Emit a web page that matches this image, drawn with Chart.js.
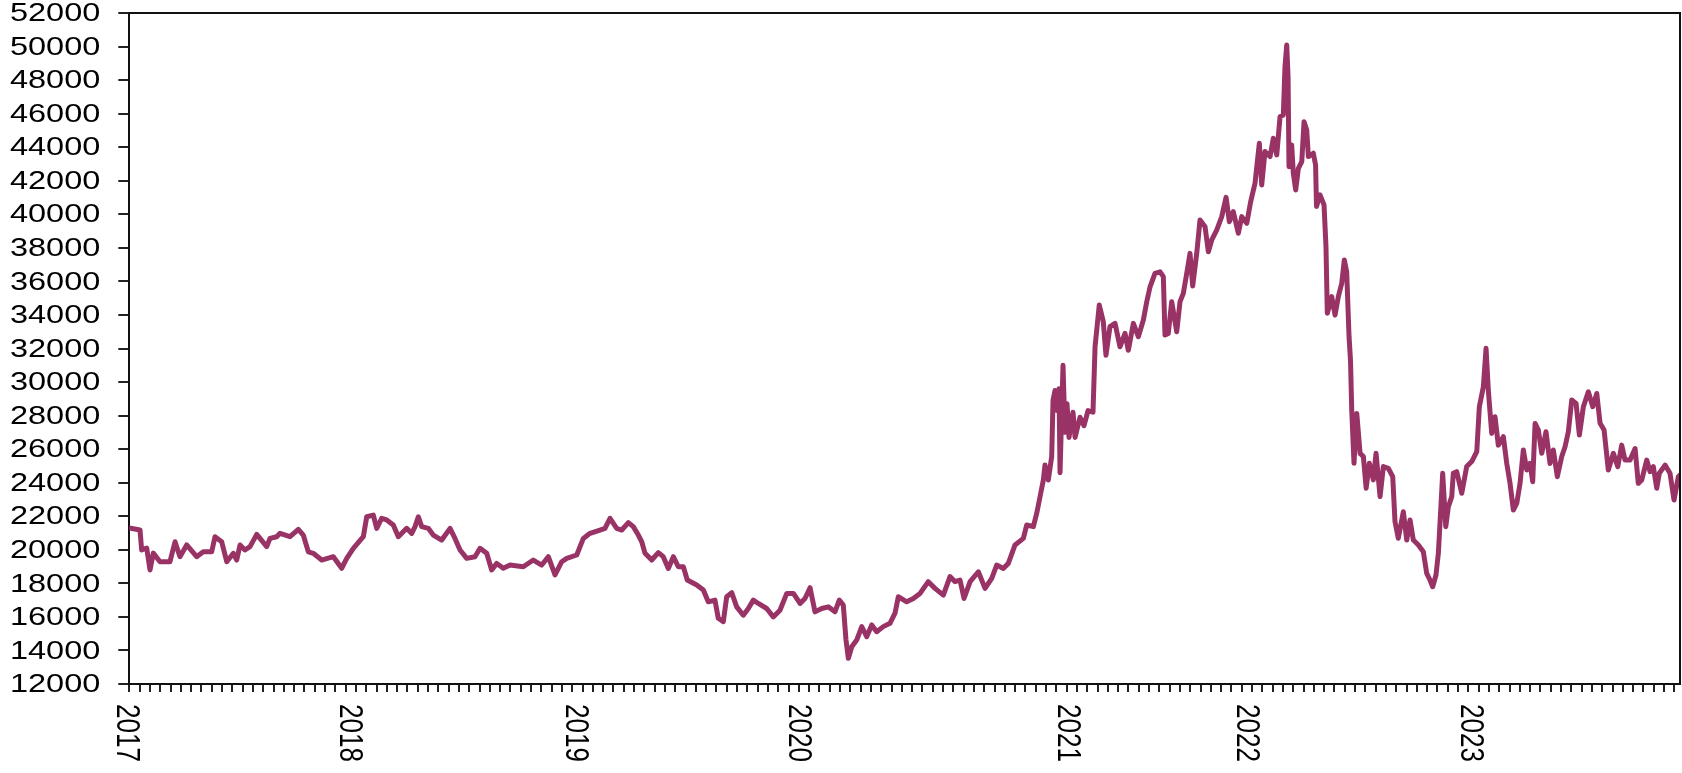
<!DOCTYPE html>
<html>
<head>
<meta charset="utf-8">
<script src="https://cdn.jsdelivr.net/npm/chart.js@4"></script>
<style>
html,body{margin:0;padding:0;background:#fff;}
#wrap{width:1682px;height:773px;position:relative;}
</style>
</head>
<body>
<div id="wrap"><canvas id="c"></canvas></div>
<script>
// x positions in axis-tick units (one minor tick = 1 unit)
const xVals = [
0,1.04,1.20,1.69,2.01,2.33,2.98,3.95,4.44,4.92,5.57,6.54,7.18,8.00,8.32,8.97,9.46,10.10,10.43,10.75,
11.23,11.72,12.37,13.34,13.66,14.31,14.63,15.60,16.41,16.89,17.38,17.86,18.68,19.81,20.62,21.11,21.75,22.72,23.05,23.69,
24.02,24.50,24.99,25.63,26.12,26.93,27.42,27.74,28.06,28.39,29.03,29.51,30.33,31.14,31.62,32.11,32.76,33.56,34.05,34.70,
35.18,35.67,36.31,36.96,38.25,39.22,40.04,40.68,41.33,41.98,42.47,43.44,44.08,44.73,45.70,
46.18,46.67,47.32,47.81,48.45,48.93,49.42,49.75,50.07,50.72,51.36,51.84,52.33,52.82,53.30,53.79,54.17,55.09,55.73,56.21,
56.86,57.18,57.67,58.00,58.49,58.97,59.61,60.10,60.58,61.07,61.88,62.52,63.17,63.83,64.47,65.12,65.60,66.09,66.57,67.22,
67.86,68.51,68.93,69.32,69.58,69.81,70.14,70.62,71.11,71.59,72.08,72.56,73.20,73.85,74.34,74.66,75.48,76.12,76.77,77.57,
78.22,79.03,79.68,80.17,80.65,81.04,81.63,82.43,83.08,83.73,84.21,84.85,85.34,85.99,86.80,87.13,87.77,88.10,88.42,88.74,
88.90,89.22,89.55,89.68,89.87,90.07,90.26,90.36,90.65,90.84,91.04,91.23,91.62,91.82,92.30,92.69,93.08,93.56,
93.76,94.17,94.56,94.82,95.21,95.70,96.18,96.67,96.99,97.48,97.96,98.45,98.78,99.10,99.58,100.07,100.39,100.55,100.87,101.20,
101.69,102.01,102.33,102.66,102.98,103.24,103.63,103.95,104.44,104.76,105.09,105.57,106.06,106.48,106.80,107.18,107.67,108.00,108.49,108.87,
109.29,109.71,109.94,110.26,110.75,111.07,111.40,111.72,112.04,112.20,112.37,112.50,112.59,112.85,113.01,113.24,113.50,113.83,114.05,114.31,
114.47,114.95,115.17,115.26,115.60,115.99,116.18,116.31,116.74,117.06,117.38,117.71,117.96,118.19,118.42,118.56,
118.68,118.90,119.17,119.49,119.81,120.08,120.39,120.78,121.04,121.43,121.75,122.23,122.66,122.88,123.20,123.69,124.02,124.34,124.66,125.15,
125.63,125.96,126.28,126.54,126.86,127.09,127.25,127.51,127.81,128.06,128.39,128.54,128.87,129.36,129.84,130.33,130.82,131.07,131.46,131.72,
131.94,132.27,132.59,132.91,133.40,133.73,134.05,134.37,134.70,135.02,135.34,135.67,135.99,136.25,136.48,136.80,137.13,137.54,137.93,138.25,
138.64,139.07,139.39,139.71,140.04,140.46,140.78,141.17,141.65,142.08,142.47,142.79,143.18,143.59,144.08,144.51,144.89,145.21,145.70,146.19,
146.50,146.83,147.32,147.64,147.96,148.29,148.54,149.10,149.58,149.97,150.39,150.55
];
const yVals = [
21300,21180,19990,20100,18800,19800,19290,19290,20480,19590,20290,19590,19880,19880,20780,20480,19290,19790,19390,20290,
19990,20190,20920,20190,20680,20780,20980,20780,21220,20880,19880,19790,19390,19590,18900,19490,20090,20780,21970,22070,
21280,21880,21780,21480,20780,21280,20980,21380,21970,21380,21280,20880,20580,21280,20680,19990,19490,19590,20090,19790,
18800,19190,18900,19090,18990,19390,19090,19590,18500,19290,19490,19690,20680,20980,21180,
21280,21880,21280,21180,21620,21380,20880,20480,19790,19390,19830,19590,18890,19590,18990,18990,18200,17900,17600,16900,
17000,15920,15720,17200,17440,16600,16100,16500,17000,16800,16500,16000,16400,17400,17400,16800,17100,17740,16300,16500,
16600,16300,17000,16700,14620,13530,14220,14620,15420,14820,15520,15120,15420,15620,16220,17200,16900,17100,17400,18100,
17700,17300,18400,18100,18200,17100,18100,18690,17700,18300,19090,18890,19190,20290,20680,21480,21380,22180,23170,24160,
25050,24160,25550,28900,29500,28300,29600,24600,31000,27000,28700,26700,28200,26700,27900,27400,28300,28200,
32100,34590,33600,31600,33300,33500,32100,32900,31900,33500,32700,33700,34790,35680,36480,36570,36280,32800,32900,34790,
33000,34790,35290,36480,37670,35730,37670,39660,39260,37770,38470,39060,39860,41010,39560,40160,38870,39860,39460,40760,
41850,44230,41750,43740,43440,44530,43540,45820,45920,48800,50090,48200,42840,44130,42440,41450,42740,43140,45520,45030,
43440,43640,42940,40470,41160,40560,38070,34100,35090,33990,35090,35890,37270,36580,32700,31300,
28330,25160,28130,25750,25560,23670,25160,24170,25750,23170,24960,24860,24360,21680,20690,22270,20580,21780,20580,20290,
19890,18600,18200,17800,18500,19790,21580,24560,21380,22570,23170,24560,24660,23370,24960,25260,25850,28530,29720,32010,
29520,26940,27930,26240,26740,25150,23960,22370,22770,23960,25950,24760,25150,24060,27530,27140,25750,27040,25150,25950,
24360,25560,26140,27040,28930,28730,26840,28530,29420,28530,29320,27540,27140,24760,25750,24960,26240,25350,25350,26040,
23960,24160,25350,24660,24960,23670,24560,25050,24560,22970,24360,24460
];
const yearLabels = ['2017','2018','2019','2020','2021','2022','2023'];
const yearPos = [-0.32, 21.33, 43.24, 64.87, 91.07, 108.38, 130.13];
const yMin = 12000, yMax = 52000, yStep = 2000;
const xMax = 150.55;
const minorTickCount = 151;

const points = xVals.map((x, i) => ({x: x, y: yVals[i]}));

const FONT = '26px "Liberation Sans", Arial, sans-serif';
const STRETCH = 1.25;

const labelPlugin = {
  id: 'customLabels',
  afterDraw(chart) {
    const ctx = chart.ctx;
    const xs = chart.scales.x, ys = chart.scales.y;
    const a = chart.chartArea;
    ctx.save();
    ctx.fillStyle = '#000';
    ctx.font = FONT;
    ctx.textAlign = 'right';
    ctx.textBaseline = 'middle';
    ys.ticks.forEach(t => {
      const py = ys.getPixelForValue(t.value);
      ctx.save();
      ctx.translate(a.left - 29, py + 1);
      ctx.scale(STRETCH, 1);
      ctx.fillText(String(t.value), 0, 0);
      ctx.restore();
    });
    ctx.textAlign = 'left';
    ctx.textBaseline = 'middle';
    yearLabels.forEach((lab, i) => {
      const px = xs.getPixelForValue(yearPos[i]);
      ctx.save();
      ctx.translate(px, a.bottom + 20);
      ctx.scale(STRETCH, 1);
      ctx.rotate(Math.PI / 2);
      ctx.fillText(lab, 0, 0);
      ctx.restore();
    });
    ctx.strokeStyle = '#111';
    ctx.lineWidth = 2;
    ctx.beginPath();
    ctx.moveTo(a.left, a.top);
    ctx.lineTo(a.right, a.top);
    ctx.lineTo(a.right, a.bottom);
    ctx.stroke();
    ctx.restore();
  }
};

new Chart(document.getElementById('c'), {
  type: 'line',
  data: {
    datasets: [{
      data: points,
      borderColor: '#993366',
      borderWidth: 5,
      pointRadius: 0,
      tension: 0,
      borderJoinStyle: 'round',
      borderCapStyle: 'round',
      fill: false
    }]
  },
  options: {
    responsive: true,
    maintainAspectRatio: false,
    animation: false,
    events: [],
    layout: { padding: { left: 0, top: 13, right: 2, bottom: 0 } },
    plugins: { legend: { display: false }, tooltip: { enabled: false } },
    scales: {
      x: {
        type: 'linear',
        min: 0,
        max: xMax,
        afterBuildTicks: (s) => {
          const arr = [];
          for (let i = 0; i < minorTickCount; i++) arr.push({ value: i });
          s.ticks = arr;
        },
        afterFit: (s) => { s.height = 89; },
        ticks: { display: false },
        grid: { drawOnChartArea: false, drawTicks: true, tickLength: 8, color: '#222', lineWidth: 2 },
        border: { display: true, color: '#111', width: 2 }
      },
      y: {
        type: 'linear',
        min: yMin,
        max: yMax,
        ticks: { display: false, stepSize: yStep },
        afterFit: (s) => { s.width = 129.3; },
        grid: { drawOnChartArea: false, drawTicks: true, tickLength: 11, color: '#222', lineWidth: 2 },
        border: { display: true, color: '#111', width: 2 }
      }
    }
  },
  plugins: [labelPlugin]
});
</script>
</body>
</html>
